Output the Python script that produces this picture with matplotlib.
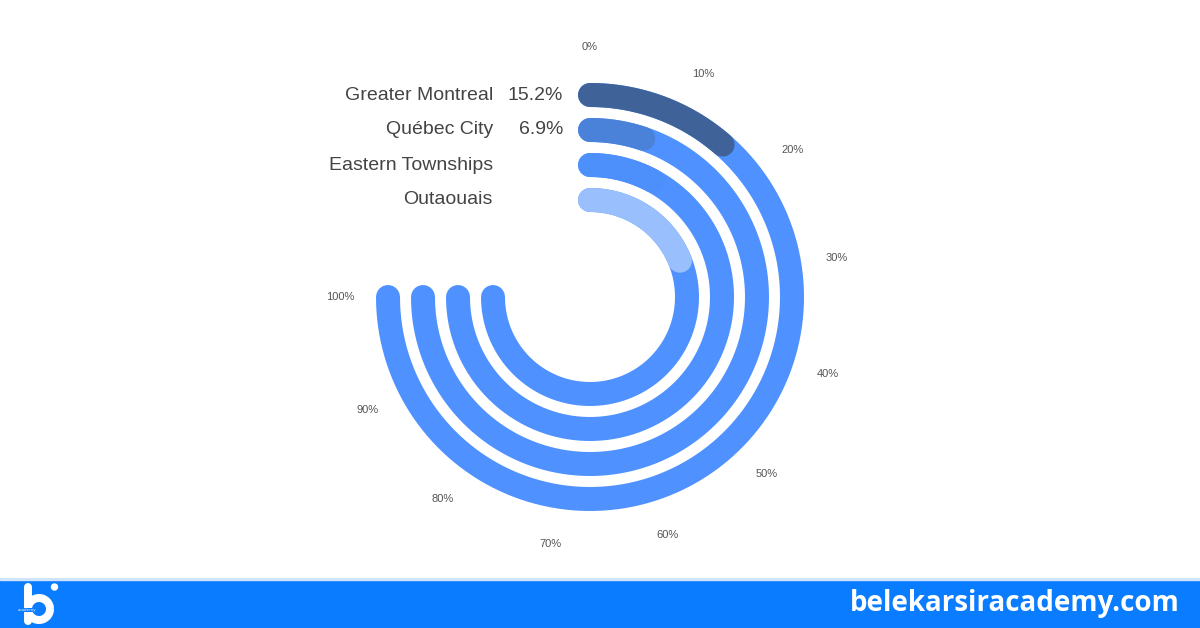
import numpy as np
import matplotlib
matplotlib.use("Agg")
import matplotlib.pyplot as plt
from matplotlib.patches import Rectangle, Circle, Arc

categories = ["Greater Montreal", "Québec City", "Eastern Townships", "Outaouais"]
values = [15.2, 6.9, 10.5, 25.2]
value_labels = ["15.2%", "6.9%", "", ""]
bar_colors = ["#3f6298", "#4a82d9", "#4d8ffb", "#9abffd"]
track_color = "#4f92ff"
tick_values = [0, 10, 20, 30, 40, 50, 60, 70, 80, 90, 100]
tick_labels = [f"{t}%" for t in tick_values]

W, H, DPI = 1200, 628, 100
fig = plt.figure(figsize=(W / DPI, H / DPI), dpi=DPI)
fig.patch.set_facecolor("white")

cx, cy, R = 590, 297, 262
ax = fig.add_axes([(cx - R) / W, (H - cy - R) / H, 2 * R / W, 2 * R / H], projection="polar")
ax.set_theta_zero_location("N")
ax.set_theta_direction(-1)
ax.set_ylim(0, R)
ax.axis("off")

SPAN = 1.5 * np.pi  # 100% = 270 degrees
radii = [202, 167, 132, 97]
lw = 24 * 72 / DPI

def th(p):
    return np.asarray(p) / 100.0 * SPAN

for r, v, c in zip(radii, values, bar_colors):
    t = th(np.linspace(0, 100, 400))
    ax.plot(t, np.full_like(t, r), color=track_color, lw=lw, solid_capstyle="round")
    t2 = th(np.linspace(0, v, 200))
    ax.plot(t2, np.full_like(t2, r), color=c, lw=lw, solid_capstyle="round")

for name, r, lab in zip(categories, radii, value_labels):
    ax.annotate(name, xy=(0, r), xytext=(-97, 0), textcoords="offset pixels",
                ha="right", va="center", fontsize=14, color="#444444", family="Liberation Sans")
    if lab:
        ax.annotate(lab, xy=(0, r), xytext=(-27, 0), textcoords="offset pixels",
                    ha="right", va="center", fontsize=14, color="#444444", family="Liberation Sans")

for tv, tl in zip(tick_values, tick_labels):
    ax.text(th(tv), 250, tl, ha="center", va="center", fontsize=8, color="#555555",
            family="Liberation Sans")

# bottom banner (pixel-unit axes)
bh = 50
bx = fig.add_axes([0, 0, 1, bh / H])
bx.set_xlim(0, W)
bx.set_ylim(bh, 0)
bx.axis("off")
bx.add_patch(Rectangle((0, 0), W, bh, color="#0a7cff", zorder=1))
bx.add_patch(Rectangle((0, 0), W, 1.5, color="#cfe3fb", zorder=2))
bx.text(1180, 25, "belekarsiracademy.com", ha="right", va="center", color="white",
        fontsize=20, fontweight="bold", family="Open Sans", zorder=3)
# logo: stem, bowl, dot
bx.plot([27.5, 27.5], [9, 43], color="white", lw=8 * 0.72, solid_capstyle="round", zorder=3)
bx.add_patch(Arc((39, 31), 22, 22, theta1=0, theta2=360, color="white", lw=8 * 0.72, zorder=3))
bx.add_patch(Circle((54.5, 9), 3, color="white", zorder=3))
bx.text(27, 32, "academy", ha="center", va="center", color="white", fontsize=3.2,
        family="Open Sans", zorder=4,
        bbox=dict(facecolor="#0a7cff", edgecolor="none", pad=0.3))

fig.savefig("out.png", dpi=DPI, facecolor=fig.get_facecolor())
